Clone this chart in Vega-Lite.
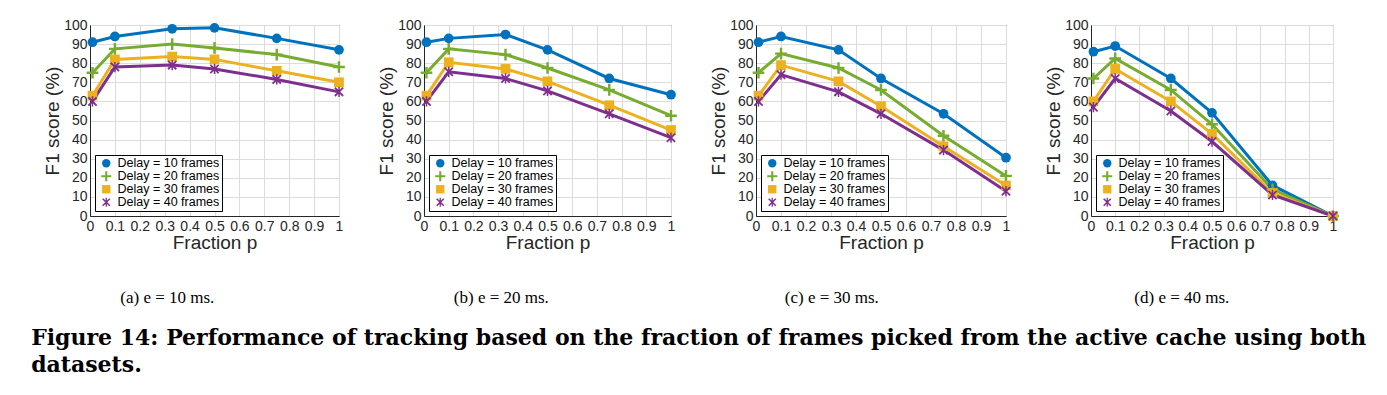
{
  "$schema": "https://vega.github.io/schema/vega-lite/v6.json",
  "padding": {"left": 31, "top": 17, "right": 0, "bottom": 0},
  "background": "white",
  "spacing": 31,
  "title": {
    "text": ["Figure 14: Performance of tracking based on the fraction of frames picked from the active cache using both", "datasets."],
    "orient": "bottom", "anchor": "start", "frame": "bounds",
    "font": "DejaVu Serif", "fontSize": 22, "fontWeight": "bold", "color": "black",
    "lineHeight": 27, "offset": 21, "dx": -12
  },
  "datasets": {
    "d": [
      {"panel":"a","p":0.01,"delay":"Delay = 10 frames","f1":91},
      {"panel":"a","p":0.1,"delay":"Delay = 10 frames","f1":94},
      {"panel":"a","p":0.33,"delay":"Delay = 10 frames","f1":98},
      {"panel":"a","p":0.5,"delay":"Delay = 10 frames","f1":98.5},
      {"panel":"a","p":0.75,"delay":"Delay = 10 frames","f1":93},
      {"panel":"a","p":1,"delay":"Delay = 10 frames","f1":87},
      {"panel":"a","p":0.01,"delay":"Delay = 20 frames","f1":75},
      {"panel":"a","p":0.1,"delay":"Delay = 20 frames","f1":87.5},
      {"panel":"a","p":0.33,"delay":"Delay = 20 frames","f1":90},
      {"panel":"a","p":0.5,"delay":"Delay = 20 frames","f1":88},
      {"panel":"a","p":0.75,"delay":"Delay = 20 frames","f1":84.5},
      {"panel":"a","p":1,"delay":"Delay = 20 frames","f1":78},
      {"panel":"a","p":0.01,"delay":"Delay = 30 frames","f1":63},
      {"panel":"a","p":0.1,"delay":"Delay = 30 frames","f1":82},
      {"panel":"a","p":0.33,"delay":"Delay = 30 frames","f1":83.5},
      {"panel":"a","p":0.5,"delay":"Delay = 30 frames","f1":82},
      {"panel":"a","p":0.75,"delay":"Delay = 30 frames","f1":76},
      {"panel":"a","p":1,"delay":"Delay = 30 frames","f1":70},
      {"panel":"a","p":0.01,"delay":"Delay = 40 frames","f1":60},
      {"panel":"a","p":0.1,"delay":"Delay = 40 frames","f1":78},
      {"panel":"a","p":0.33,"delay":"Delay = 40 frames","f1":79},
      {"panel":"a","p":0.5,"delay":"Delay = 40 frames","f1":77},
      {"panel":"a","p":0.75,"delay":"Delay = 40 frames","f1":71.5},
      {"panel":"a","p":1,"delay":"Delay = 40 frames","f1":65},

      {"panel":"b","p":0.01,"delay":"Delay = 10 frames","f1":91},
      {"panel":"b","p":0.1,"delay":"Delay = 10 frames","f1":93},
      {"panel":"b","p":0.33,"delay":"Delay = 10 frames","f1":95},
      {"panel":"b","p":0.5,"delay":"Delay = 10 frames","f1":87},
      {"panel":"b","p":0.75,"delay":"Delay = 10 frames","f1":72},
      {"panel":"b","p":1,"delay":"Delay = 10 frames","f1":63.5},
      {"panel":"b","p":0.01,"delay":"Delay = 20 frames","f1":75},
      {"panel":"b","p":0.1,"delay":"Delay = 20 frames","f1":87.5},
      {"panel":"b","p":0.33,"delay":"Delay = 20 frames","f1":84.5},
      {"panel":"b","p":0.5,"delay":"Delay = 20 frames","f1":77.5},
      {"panel":"b","p":0.75,"delay":"Delay = 20 frames","f1":66},
      {"panel":"b","p":1,"delay":"Delay = 20 frames","f1":52.5},
      {"panel":"b","p":0.01,"delay":"Delay = 30 frames","f1":63},
      {"panel":"b","p":0.1,"delay":"Delay = 30 frames","f1":80.5},
      {"panel":"b","p":0.33,"delay":"Delay = 30 frames","f1":77},
      {"panel":"b","p":0.5,"delay":"Delay = 30 frames","f1":70.5},
      {"panel":"b","p":0.75,"delay":"Delay = 30 frames","f1":58},
      {"panel":"b","p":1,"delay":"Delay = 30 frames","f1":45},
      {"panel":"b","p":0.01,"delay":"Delay = 40 frames","f1":60},
      {"panel":"b","p":0.1,"delay":"Delay = 40 frames","f1":75.5},
      {"panel":"b","p":0.33,"delay":"Delay = 40 frames","f1":72},
      {"panel":"b","p":0.5,"delay":"Delay = 40 frames","f1":65.5},
      {"panel":"b","p":0.75,"delay":"Delay = 40 frames","f1":53.5},
      {"panel":"b","p":1,"delay":"Delay = 40 frames","f1":41},

      {"panel":"c","p":0.01,"delay":"Delay = 10 frames","f1":91},
      {"panel":"c","p":0.1,"delay":"Delay = 10 frames","f1":94},
      {"panel":"c","p":0.33,"delay":"Delay = 10 frames","f1":87},
      {"panel":"c","p":0.5,"delay":"Delay = 10 frames","f1":72},
      {"panel":"c","p":0.75,"delay":"Delay = 10 frames","f1":53.5},
      {"panel":"c","p":1,"delay":"Delay = 10 frames","f1":30.5},
      {"panel":"c","p":0.01,"delay":"Delay = 20 frames","f1":75},
      {"panel":"c","p":0.1,"delay":"Delay = 20 frames","f1":85},
      {"panel":"c","p":0.33,"delay":"Delay = 20 frames","f1":77.5},
      {"panel":"c","p":0.5,"delay":"Delay = 20 frames","f1":66},
      {"panel":"c","p":0.75,"delay":"Delay = 20 frames","f1":42},
      {"panel":"c","p":1,"delay":"Delay = 20 frames","f1":21},
      {"panel":"c","p":0.01,"delay":"Delay = 30 frames","f1":63},
      {"panel":"c","p":0.1,"delay":"Delay = 30 frames","f1":79},
      {"panel":"c","p":0.33,"delay":"Delay = 30 frames","f1":70.5},
      {"panel":"c","p":0.5,"delay":"Delay = 30 frames","f1":57.5},
      {"panel":"c","p":0.75,"delay":"Delay = 30 frames","f1":36.5},
      {"panel":"c","p":1,"delay":"Delay = 30 frames","f1":16},
      {"panel":"c","p":0.01,"delay":"Delay = 40 frames","f1":60},
      {"panel":"c","p":0.1,"delay":"Delay = 40 frames","f1":74},
      {"panel":"c","p":0.33,"delay":"Delay = 40 frames","f1":65},
      {"panel":"c","p":0.5,"delay":"Delay = 40 frames","f1":53.5},
      {"panel":"c","p":0.75,"delay":"Delay = 40 frames","f1":34.5},
      {"panel":"c","p":1,"delay":"Delay = 40 frames","f1":13},

      {"panel":"d","p":0.01,"delay":"Delay = 10 frames","f1":86},
      {"panel":"d","p":0.1,"delay":"Delay = 10 frames","f1":89},
      {"panel":"d","p":0.33,"delay":"Delay = 10 frames","f1":72},
      {"panel":"d","p":0.5,"delay":"Delay = 10 frames","f1":54},
      {"panel":"d","p":0.75,"delay":"Delay = 10 frames","f1":16},
      {"panel":"d","p":1,"delay":"Delay = 10 frames","f1":0},
      {"panel":"d","p":0.01,"delay":"Delay = 20 frames","f1":72},
      {"panel":"d","p":0.1,"delay":"Delay = 20 frames","f1":82.5},
      {"panel":"d","p":0.33,"delay":"Delay = 20 frames","f1":66},
      {"panel":"d","p":0.5,"delay":"Delay = 20 frames","f1":48},
      {"panel":"d","p":0.75,"delay":"Delay = 20 frames","f1":14},
      {"panel":"d","p":1,"delay":"Delay = 20 frames","f1":0},
      {"panel":"d","p":0.01,"delay":"Delay = 30 frames","f1":60},
      {"panel":"d","p":0.1,"delay":"Delay = 30 frames","f1":77},
      {"panel":"d","p":0.33,"delay":"Delay = 30 frames","f1":60},
      {"panel":"d","p":0.5,"delay":"Delay = 30 frames","f1":43},
      {"panel":"d","p":0.75,"delay":"Delay = 30 frames","f1":12},
      {"panel":"d","p":1,"delay":"Delay = 30 frames","f1":0},
      {"panel":"d","p":0.01,"delay":"Delay = 40 frames","f1":57},
      {"panel":"d","p":0.1,"delay":"Delay = 40 frames","f1":72},
      {"panel":"d","p":0.33,"delay":"Delay = 40 frames","f1":55},
      {"panel":"d","p":0.5,"delay":"Delay = 40 frames","f1":39},
      {"panel":"d","p":0.75,"delay":"Delay = 40 frames","f1":11},
      {"panel":"d","p":1,"delay":"Delay = 40 frames","f1":0}
    ]
  },
  "data": {"name": "d"},
  "hconcat": [
    {
      "width": 249, "height": 191,
      "title": {"text": "(a) e = 10 ms.", "dx": -27},
      "transform": [{"filter": "datum.panel === 'a'"}],
      "encoding": {
        "x": {"field": "p", "type": "quantitative", "scale": {"domain": [0, 1], "nice": false}, "axis": {"values": [0,0.1,0.2,0.3,0.4,0.5,0.6,0.7,0.8,0.9,1], "format": "~g", "title": "Fraction p"}},
        "y": {"field": "f1", "type": "quantitative", "scale": {"domain": [0, 100], "nice": false}, "axis": {"values": [0,10,20,30,40,50,60,70,80,90,100], "title": "F1 score (%)"}},
        "color": {"field": "delay", "type": "nominal", "title": null, "scale": {"domain": ["Delay = 10 frames", "Delay = 20 frames", "Delay = 30 frames", "Delay = 40 frames"], "range": ["#0072BD", "#77AC30", "#EDB120", "#7E2F8E"]}}
      },
      "layer": [
        {"mark": {"type": "line", "strokeWidth": 3}},
        {"mark": {"type": "point", "filled": true, "opacity": 1, "size": 95},
         "encoding": {
           "shape": {"field": "delay", "type": "nominal", "title": null, "scale": {"domain": ["Delay = 10 frames", "Delay = 20 frames", "Delay = 30 frames", "Delay = 40 frames"], "range": ["circle", "M-1.2,-0.25H-0.25V-1.2H0.25V-0.25H1.2V0.25H0.25V1.2H-0.25V0.25H-1.2Z", "square", "M-0.72,-0.98L0.98,0.72L0.72,0.98L-0.98,-0.72ZM0.98,-0.72L-0.72,0.98L-0.98,0.72L0.72,-0.98ZM-0.15,-1.05H0.15V1.05H-0.15Z"]}}
         }}
      ]
    },
    {
      "width": 247, "height": 191,
      "title": {"text": "(b) e = 20 ms.", "dx": -26},
      "transform": [{"filter": "datum.panel === 'b'"}],
      "encoding": {
        "x": {"field": "p", "type": "quantitative", "scale": {"domain": [0, 1], "nice": false}, "axis": {"values": [0,0.1,0.2,0.3,0.4,0.5,0.6,0.7,0.8,0.9,1], "format": "~g", "title": "Fraction p"}},
        "y": {"field": "f1", "type": "quantitative", "scale": {"domain": [0, 100], "nice": false}, "axis": {"values": [0,10,20,30,40,50,60,70,80,90,100], "title": "F1 score (%)"}},
        "color": {"field": "delay", "type": "nominal", "title": null, "scale": {"domain": ["Delay = 10 frames", "Delay = 20 frames", "Delay = 30 frames", "Delay = 40 frames"], "range": ["#0072BD", "#77AC30", "#EDB120", "#7E2F8E"]}}
      },
      "layer": [
        {"mark": {"type": "line", "strokeWidth": 3}},
        {"mark": {"type": "point", "filled": true, "opacity": 1, "size": 95},
         "encoding": {
           "shape": {"field": "delay", "type": "nominal", "title": null, "scale": {"domain": ["Delay = 10 frames", "Delay = 20 frames", "Delay = 30 frames", "Delay = 40 frames"], "range": ["circle", "M-1.2,-0.25H-0.25V-1.2H0.25V-0.25H1.2V0.25H0.25V1.2H-0.25V0.25H-1.2Z", "square", "M-0.72,-0.98L0.98,0.72L0.72,0.98L-0.98,-0.72ZM0.98,-0.72L-0.72,0.98L-0.98,0.72L0.72,-0.98ZM-0.15,-1.05H0.15V1.05H-0.15Z"]}}
         }}
      ]
    },
    {
      "width": 250, "height": 191,
      "title": {"text": "(c) e = 30 ms.", "dx": -29},
      "transform": [{"filter": "datum.panel === 'c'"}],
      "encoding": {
        "x": {"field": "p", "type": "quantitative", "scale": {"domain": [0, 1], "nice": false}, "axis": {"values": [0,0.1,0.2,0.3,0.4,0.5,0.6,0.7,0.8,0.9,1], "format": "~g", "title": "Fraction p"}},
        "y": {"field": "f1", "type": "quantitative", "scale": {"domain": [0, 100], "nice": false}, "axis": {"values": [0,10,20,30,40,50,60,70,80,90,100], "title": "F1 score (%)"}},
        "color": {"field": "delay", "type": "nominal", "title": null, "scale": {"domain": ["Delay = 10 frames", "Delay = 20 frames", "Delay = 30 frames", "Delay = 40 frames"], "range": ["#0072BD", "#77AC30", "#EDB120", "#7E2F8E"]}}
      },
      "layer": [
        {"mark": {"type": "line", "strokeWidth": 3}},
        {"mark": {"type": "point", "filled": true, "opacity": 1, "size": 95},
         "encoding": {
           "shape": {"field": "delay", "type": "nominal", "title": null, "scale": {"domain": ["Delay = 10 frames", "Delay = 20 frames", "Delay = 30 frames", "Delay = 40 frames"], "range": ["circle", "M-1.2,-0.25H-0.25V-1.2H0.25V-0.25H1.2V0.25H0.25V1.2H-0.25V0.25H-1.2Z", "square", "M-0.72,-0.98L0.98,0.72L0.72,0.98L-0.98,-0.72ZM0.98,-0.72L-0.72,0.98L-0.98,0.72L0.72,-0.98ZM-0.15,-1.05H0.15V1.05H-0.15Z"]}}
         }}
      ]
    },
    {
      "width": 242, "height": 191,
      "title": {"text": "(d) e = 40 ms.", "dx": -10},
      "transform": [{"filter": "datum.panel === 'd'"}],
      "encoding": {
        "x": {"field": "p", "type": "quantitative", "scale": {"domain": [0, 1], "nice": false}, "axis": {"values": [0,0.1,0.2,0.3,0.4,0.5,0.6,0.7,0.8,0.9,1], "format": "~g", "title": "Fraction p"}},
        "y": {"field": "f1", "type": "quantitative", "scale": {"domain": [0, 100], "nice": false}, "axis": {"values": [0,10,20,30,40,50,60,70,80,90,100], "title": "F1 score (%)"}},
        "color": {"field": "delay", "type": "nominal", "title": null, "scale": {"domain": ["Delay = 10 frames", "Delay = 20 frames", "Delay = 30 frames", "Delay = 40 frames"], "range": ["#0072BD", "#77AC30", "#EDB120", "#7E2F8E"]}}
      },
      "layer": [
        {"mark": {"type": "line", "strokeWidth": 3}},
        {"mark": {"type": "point", "filled": true, "opacity": 1, "size": 95},
         "encoding": {
           "shape": {"field": "delay", "type": "nominal", "title": null, "scale": {"domain": ["Delay = 10 frames", "Delay = 20 frames", "Delay = 30 frames", "Delay = 40 frames"], "range": ["circle", "M-1.2,-0.25H-0.25V-1.2H0.25V-0.25H1.2V0.25H0.25V1.2H-0.25V0.25H-1.2Z", "square", "M-0.72,-0.98L0.98,0.72L0.72,0.98L-0.98,-0.72ZM0.98,-0.72L-0.72,0.98L-0.98,0.72L0.72,-0.98ZM-0.15,-1.05H0.15V1.05H-0.15Z"]}}
         }}
      ]
    }
  ],
  "resolve": {
    "scale": {"x": "independent", "y": "independent", "color": "independent", "shape": "independent"},
    "legend": {"color": "independent", "shape": "independent"}
  },
  "config": {
    "view": {"stroke": "#262626", "strokeWidth": 1},
    "title": {"orient": "bottom", "anchor": "middle", "frame": "bounds", "font": "Liberation Serif", "fontSize": 17, "fontWeight": "normal", "color": "black", "offset": 38},
    "axis": {
      "labelFont": "Liberation Sans", "titleFont": "Liberation Sans",
      "labelFontSize": 14, "titleFontSize": 19, "titleFontWeight": "normal",
      "labelColor": "#262626", "titleColor": "#262626", "domainColor": "#262626",
      "gridColor": "#dcdcdc", "ticks": false, "labelPadding": 3, "labelFlush": false, "labelOverlap": false
    },
    "axisX": {"titlePadding": 0},
    "axisY": {"titlePadding": 1},
    "legend": {
      "orient": "bottom-left", "offset": 5, "strokeColor": "black", "fillColor": "white",
      "padding": 2, "rowPadding": 0, "labelFont": "Liberation Sans", "labelFontSize": 12.5,
      "labelColor": "black", "symbolSize": 70, "symbolStrokeWidth": 0, "symbolOffset": 3, "labelOffset": 5
    }
  }
}
